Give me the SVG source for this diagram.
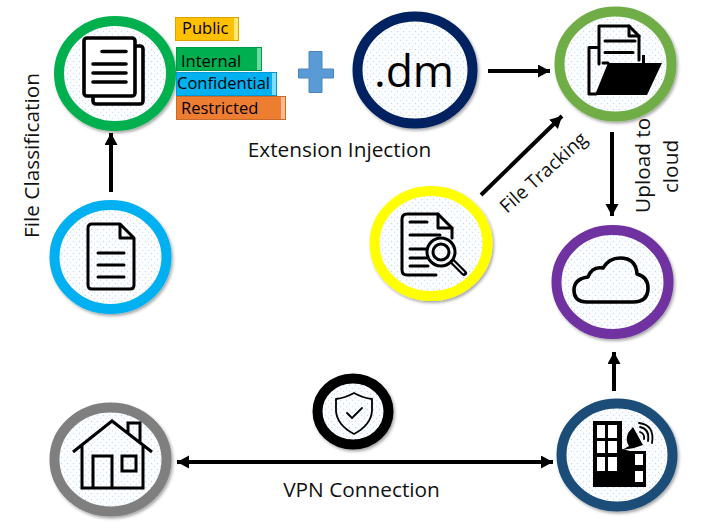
<svg xmlns="http://www.w3.org/2000/svg" width="709" height="522" viewBox="0 0 709 522">
<style>
text{font-family:"Open Sans","Noto Sans","DejaVu Sans",sans-serif;fill:#111;font-size:20.8px}
.ring{fill:url(#dots);stroke-width:10;filter:url(#sh)}
.ic{fill:none;stroke:#000;stroke-width:3;stroke-linecap:round;stroke-linejoin:round}
.icf{fill:#fff;stroke:#000;stroke-width:3.6;stroke-linejoin:round}
.ln{stroke:#000;stroke-width:4;fill:none}
.lb{font-size:16.5px;fill:#000}
</style>
<defs>
<pattern id="dots" width="6" height="6" patternUnits="userSpaceOnUse">
<rect width="6" height="6" fill="#fcfdfe"/>
<circle cx="1.5" cy="1.5" r=".7" fill="#c4daf0"/><circle cx="4.500" cy="4.500" r=".7" fill="#d3e3f4"/>
</pattern>
<filter id="sh" x="-10%" y="-10%" width="125%" height="125%"><feDropShadow dx="1.5" dy="2" stdDeviation="1.5" flood-color="#000" flood-opacity=".35"/></filter>
<marker id="ah" markerUnits="userSpaceOnUse" markerWidth="14" markerHeight="14" refX="12" refY="6.500" orient="auto-start-reverse"><path d="M0 0L12 6.500L0 13z" fill="#000"/></marker>
</defs>

<g id="connectors">
<line class="ln" x1="111" y1="192" x2="111" y2="133" marker-end="url(#ah)"/>
<line class="ln" x1="488" y1="71" x2="550" y2="71" marker-end="url(#ah)"/>
<line class="ln" x1="481" y1="195" x2="562" y2="116" marker-end="url(#ah)"/>
<line class="ln" x1="612" y1="132" x2="612" y2="216" marker-end="url(#ah)"/>
<line class="ln" x1="614" y1="391" x2="614" y2="352" marker-end="url(#ah)"/>
<line class="ln" x1="177" y1="462" x2="553" y2="462" marker-start="url(#ah)" marker-end="url(#ah)"/>
</g>

<g id="n-classify">
<ellipse class="ring" cx="115" cy="73.500" rx="56" ry="52.500" stroke="#00b050"/>
<rect class="icf" x="93" y="46" width="50" height="58" rx="3"/>
<rect class="icf" x="84" y="38" width="51" height="58" rx="3"/>
<path class="ic" style="stroke-width:3.6" d="M102 51.500H126M93 64H126M93 73H126M93 82H126"/>
</g>

<g id="tag-public">
<rect x="175.500" y="17.500" width="63" height="23" fill="#ffc000" stroke="#d9a300"/><rect x="234" y="18" width="4" height="22" fill="#ffe873"/>
<text class="lb" x="182" y="34">Public</text>
</g>
<g id="tag-internal">
<rect x="176.500" y="47.500" width="85" height="23" fill="#00b050" stroke="#009a46"/><rect x="257" y="48" width="4" height="22" fill="#6fd9a3"/>
<text class="lb" x="181" y="67">Internal</text>
</g>
<g id="tag-confidential">
<rect x="176.500" y="72.500" width="100" height="23" fill="#00b0f0" stroke="#0098d0"/><rect x="272" y="73" width="4" height="22" fill="#80dcff"/>
<text class="lb" x="177" y="89">Confidential</text>
</g>
<g id="tag-restricted">
<rect x="176.500" y="96.500" width="109" height="23" fill="#ed7d31" stroke="#c96a28"/><rect x="281" y="97" width="4" height="22" fill="#f7bd93"/>
<text class="lb" x="181" y="114">Restricted</text>
</g>

<g id="plus">
<path d="M309 51.500H322V69H333.500V78H322V92.500H309V78H298.500V69H309Z" fill="#5b9bd5" stroke="#4a86bd"/>
</g>

<g id="n-dm">
<ellipse class="ring" cx="415" cy="70" rx="57.500" ry="53.500" stroke="#002060"/>
<text x="414" y="87" text-anchor="middle" style="font-size:44.500px;fill:#000">.dm</text>
</g>

<g id="n-folder">
<ellipse class="ring" cx="615.500" cy="64" rx="56" ry="52.500" stroke="#70ad47"/>
<path class="ic" d="M599 64V26H629L639 36V60"/>
<path class="ic" d="M629 26V36H639M605 41H635M605 52.500H633M603 63H608"/>
<path class="ic" d="M597 47.500H589V94H596"/>
<path d="M642 55H645V63H662L647 95H595L608 63H642Z" fill="#000"/>
</g>

<g id="n-tracking">
<ellipse class="ring" cx="431" cy="243.500" rx="56.500" ry="52.500" stroke="#ffff00"/>
<path class="ic" d="M436 275H407Q402 275 402 270V219Q402 214 407 214H438L452 228V238"/>
<path class="ic" d="M438 214V228H452M410 222H427M410 235H440M410 249H427M410 258H426M410 266H428"/>
<circle class="ic" cx="441" cy="252" r="14"/>
<circle class="ic" cx="441" cy="252" r="8"/>
<path d="M453 262L464 273" class="ic" style="stroke-width:6"/>
<path d="M453 262L464 273" style="stroke:#fff;stroke-width:1.500"/>
</g>

<g id="n-cloud">
<ellipse class="ring" cx="612.500" cy="282" rx="56" ry="52" stroke="#7030a0"/>
<path class="ic" d="M587 302H633Q648 302 648 288Q648 277 637 274Q636 258 620 258Q609 258 603 268Q592 266 588 277Q574 279 574 290Q574 302 587 302Z" style="stroke-width:3.600"/>
</g>

<g id="n-building">
<ellipse class="ring" cx="617" cy="455" rx="55.500" ry="51.500" stroke="#1f4e79"/>
<path d="M593 421H622V449L630 451H646V487H593Z" fill="#000"/>
<path d="M597 425h8v13h-8zM608 425h9v13h-9zM597 441h8v12h-8zM608 441h9v12h-9zM597 457h8v14h-8zM608 457h9v14h-9zM635 454h8v11h-8zM635 471h8v11h-8z" fill="#fff"/>
<path d="M633 427L628 433Q625 441 629 446L622 450L634 448L643 445Z" fill="#000"/>
<path class="ic" style="stroke-width:1.800" d="M640 432Q645 434 644 439M640 427Q650 429 648 441M639 423Q655 425 652 443"/>
</g>

<g id="n-home">
<ellipse class="ring" cx="110.500" cy="459.500" rx="56" ry="52" stroke="#7f7f7f"/>
<path class="ic" style="stroke-linecap:butt;stroke-linejoin:miter" d="M73 452L112 421L152 452M128 434V423H140V444M82 444V488H112V456H93V488M112 488H143V444"/>
<rect class="ic" x="122" y="456" width="14" height="15" style="stroke-linejoin:miter"/>
</g>

<g id="n-vpn">
<ellipse class="ring" cx="353" cy="411.500" rx="35.500" ry="33" stroke="#000"/>
<path class="ic" style="stroke-width:1.800" d="M354 393Q345 398 336 399V411Q337 425 354 434Q371 425 372 411V399Q363 398 354 393Z"/>
<path class="ic" style="stroke-width:1.800" d="M347 413L352 418L362 408"/>
</g>

<g id="n-file">
<ellipse class="ring" cx="110.500" cy="257" rx="56" ry="52" stroke="#00b0f0"/>
<path class="ic" d="M120 224H92Q88 224 88 228V285Q88 289 92 289H130Q134 289 134 285V238L120 224V238H134"/>
<path class="ic" d="M98 253H124M98 265H124M98 277H124"/>
</g>

<g id="labels">
<text x="339.500" y="157" text-anchor="middle">Extension Injection</text>
<text x="361.500" y="497" text-anchor="middle">VPN Connection</text>
<text transform="translate(39 238) rotate(-90)">File Classification</text>
<text transform="translate(507 214) rotate(-42)" style="font-size:19px">File Tracking</text>
<text transform="translate(650 213) rotate(-90)">Upload to</text>
<text transform="translate(678 166.500) rotate(-90)" text-anchor="middle">cloud</text>
</g>
</svg>
